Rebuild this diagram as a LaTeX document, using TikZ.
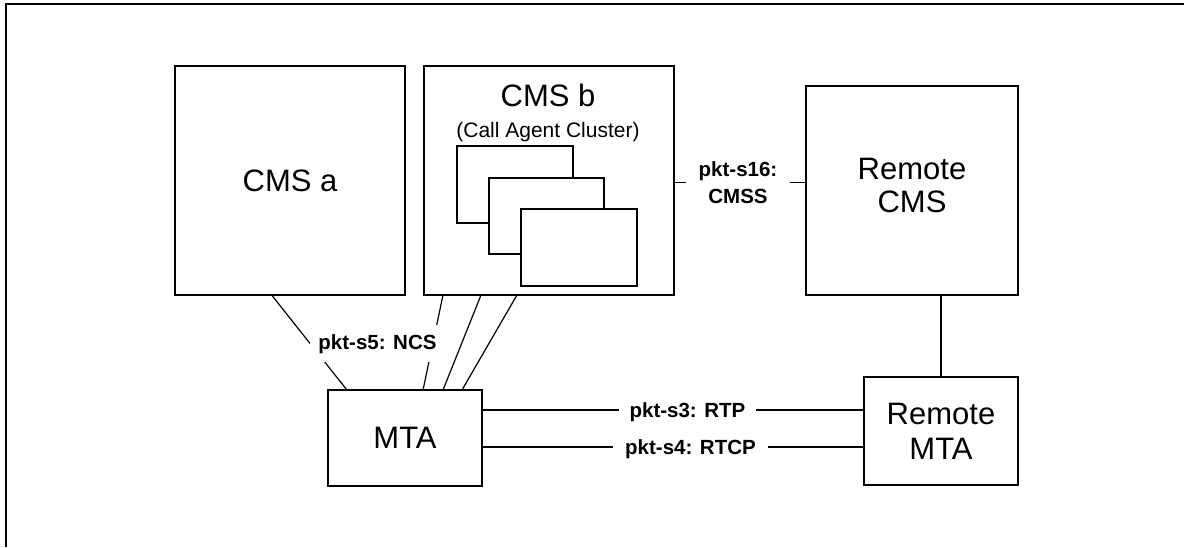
\documentclass[tikz,border=0pt]{standalone}
\usepackage{fontspec}
\setmainfont{Liberation Sans}
\usetikzlibrary{calc}
\begin{document}
\begin{tikzpicture}[x=1pt,y=-1pt,
  box/.style={draw,line width=1.8pt,fill=white,outer sep=0pt,inner sep=0pt,font=\fontsize{31}{35}\selectfont,align=center},
  big/.style={font=\fontsize{31}{33}\selectfont,align=center,inner sep=0pt},
  conn/.style={line width=1.2pt},
  lbl/.style={fill=white,font=\fontsize{20.5}{26.5}\selectfont\bfseries,inner ysep=6pt,align=center},
  frame/.style={line width=2pt}]
\useasboundingbox (0,0) rectangle (1184,547);
% outer frame (top and left only)
\coordinate (f1) at (6,547);
\coordinate (f2) at (6,3.7);
\coordinate (f3) at (1184,3.7);
\draw[frame] (f1) -- (f2) -- (f3);

% boxes
\node[box,minimum width=230pt,minimum height=229pt] (cmsa) at (290,180.5) {CMS a};
\node[box,minimum width=250pt,minimum height=229pt] (cmsb) at (549,180.5) {};
\node[anchor=base,font=\fontsize{31}{34}\selectfont,inner sep=0pt] (cmsbt) at (548,106) {CMS b};
\node[anchor=base,font=\fontsize{21}{24}\selectfont,inner sep=0pt] (cmsbs) at (548,137) {(Call Agent Cluster)};
\node[box,minimum width=116pt,minimum height=77pt] (ca1) at (515,184.5) {};
\node[box,minimum width=115pt,minimum height=76pt] (ca2) at (546.5,216) {};
\node[box,minimum width=116pt,minimum height=77pt] (ca3) at (579,247.5) {};

\node[box,minimum width=212pt,minimum height=209pt] (rcms) at (912,190.5) {};
\node[big] (rcmst) at (912,185) {Remote\\CMS};
\node[box,minimum width=154pt,minimum height=108pt] (rmta) at (941,431) {Remote\\MTA};
\node[box,minimum width=154pt,minimum height=96pt] (mta) at (405,438) {MTA};

% connectors MTA - CMS
\coordinate (a1) at ($(cmsa.south west)!0.42!(cmsa.south east)$);
\coordinate (m1) at ($(mta.north west)!0.123!(mta.north east)$);
\draw[conn] (a1) -- (m1);
\coordinate (b1) at ($(cmsb.south west)!0.076!(cmsb.south east)$);
\coordinate (m2) at ($(mta.north west)!0.617!(mta.north east)$);
\draw[conn] (b1) -- (m2);
\coordinate (b2) at ($(cmsb.south west)!0.228!(cmsb.south east)$);
\coordinate (m3) at ($(mta.north west)!0.747!(mta.north east)$);
\draw[conn] (b2) -- (m3);
\coordinate (b3) at ($(cmsb.south west)!0.372!(cmsb.south east)$);
\coordinate (m4) at ($(mta.north west)!0.870!(mta.north east)$);
\draw[conn] (b3) -- (m4);

% remote CMS - remote MTA
\draw[conn] (rmta.north) -- (rmta.north |- rcms.south);

% RTP / RTCP
\coordinate (r1) at ($(mta.north east)!0.208!(mta.south east)$);
\draw[conn] (r1) -- (rmta.west |- r1);
\coordinate (r2) at ($(mta.north east)!0.594!(mta.south east)$);
\draw[conn] (r2) -- (rmta.west |- r2);

% CMSS
\coordinate (s1) at ($(cmsb.north east)!0.507!(cmsb.south east)$);
\draw[conn] (s1) -- (rcms.west |- s1);

% labels
\node[lbl,anchor=base,inner xsep=8pt,inner ysep=9pt] (ncs) at (377.5,349) {pkt-s5: NCS};
\node[lbl,anchor=base,inner xsep=11pt] (rtp) at (687.5,417) {pkt-s3: RTP};
\node[lbl,anchor=base,inner xsep=12pt] (rtcp) at (690.5,454) {pkt-s4: RTCP};
\node[lbl,inner xsep=13pt] (s16) at (738,182.5) {pkt-s16:\\CMSS};
\end{tikzpicture}
\end{document}
